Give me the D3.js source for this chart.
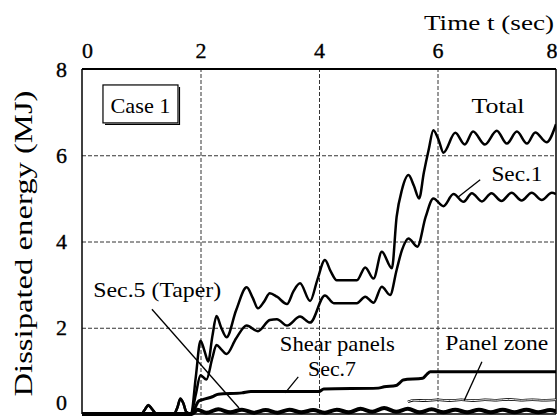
<!DOCTYPE html>
<html>
<head>
<meta charset="utf-8">
<script src="https://cdn.jsdelivr.net/npm/d3@7"></script>
<style>
html, body { margin: 0; padding: 0; background: #fff; }
svg { display: block; }
text { font-family: "Liberation Serif", "Times New Roman", Times, serif; fill: #000; }
</style>
</head>
<body>
<div id="chart"></div>
<script>
// time (sec) and dissipated energy (MJ)
let totalT = [0, 1.0, 1.06, 1.12, 1.18, 1.26, 1.55, 1.61, 1.66, 1.71, 1.76, 1.84, 1.92, 2.0, 2.07, 2.13, 2.2, 2.27,
    2.35, 2.44, 2.6, 2.78, 2.88, 2.97, 3.07, 3.17, 3.29, 3.46, 3.57, 3.68, 3.85, 3.97, 4.1, 4.2, 4.3, 4.64, 4.78,
    4.92, 5.06, 5.23, 5.31, 5.4, 5.51, 5.6, 5.69, 5.77, 5.85, 5.93, 6.02, 6.1, 6.3, 6.46, 6.6, 6.8, 7.0, 7.17,
    7.34, 7.51, 7.65, 7.84, 8.0];
let totalE = [0, 0, 0.1, 0.21, 0.12, 0, 0, 0.15, 0.36, 0.25, 0.05, 0, 0.85, 1.7, 1.45, 1.22, 1.8, 2.27,
    2.0, 1.78, 2.4, 2.94, 2.7, 2.45, 2.6, 2.8, 2.72, 2.55, 2.85, 3.03, 2.62, 3.1, 3.57, 3.3, 3.1, 3.1, 3.4,
    3.14, 3.76, 3.38, 4.57, 5.2, 5.54, 5.3, 5.0, 5.6, 6.12, 6.58, 6.35, 6.06, 6.52, 6.25, 6.55, 6.25, 6.57, 6.27,
    6.55, 6.27, 6.53, 6.3, 6.72];

let sec1T = [0, 1.0, 1.06, 1.12, 1.18, 1.26, 1.55, 1.61, 1.66, 1.71, 1.76, 1.84, 1.92, 2.0, 2.1, 2.2, 2.27, 2.35,
    2.44, 2.6, 2.78, 2.97, 3.17, 3.29, 3.46, 3.68, 3.85, 4.1, 4.25, 4.64, 4.78, 4.92, 5.06, 5.2, 5.31, 5.4, 5.51,
    5.66, 5.8, 5.93, 6.1, 6.27, 6.44, 6.58, 6.75, 6.91, 7.08, 7.25, 7.42, 7.59, 7.76, 7.93, 8.0];
let sec1E = [0, 0, 0.1, 0.2, 0.12, 0, 0, 0.15, 0.35, 0.25, 0.05, 0, 0.45, 0.9, 0.8, 1.3, 1.6, 1.5,
    1.39, 1.75, 2.05, 1.92, 2.18, 2.2, 2.05, 2.26, 2.12, 2.75, 2.57, 2.57, 2.72, 2.58, 2.95, 2.76, 3.34, 3.8, 4.07,
    3.88, 4.57, 5.0, 4.82, 5.1, 4.92, 5.12, 4.93, 5.12, 4.94, 5.13, 4.95, 5.13, 4.96, 5.13, 5.1];

// shear panels (Sec.7)
let sec7T = [0, 1.85, 1.9, 1.97, 2.05, 2.2, 2.3, 2.7, 2.85, 4.0, 4.08, 5.0, 5.1, 5.3, 5.36, 5.42, 5.75, 5.82, 5.88, 8.0];
let sec7E = [0, 0, 0.12, 0.3, 0.34, 0.4, 0.46, 0.49, 0.52, 0.52, 0.58, 0.6, 0.63, 0.66, 0.72, 0.79, 0.83, 0.92, 0.98, 0.98];

// Sec.5 (taper)
let sec5T = [0, 1.85, 1.95, 2.1, 2.3, 2.5, 2.7, 2.9, 3.1, 3.3, 3.5, 3.7, 3.9, 4.1, 4.3, 4.5, 4.7, 4.9, 5.1,
    5.3, 5.5, 5.7, 5.9, 6.1, 6.3, 6.5, 6.7, 6.9, 7.1, 7.3, 7.5, 7.7, 7.9, 8.0];
let sec5E = [0, 0, 0.1, 0.03, 0.11, 0.04, 0.1, 0.03, 0.09, 0.03, 0.1, 0.04, 0.09, 0.03, 0.1, 0.04, 0.12, 0.05, 0.14,
    0.05, 0.12, 0.04, 0.11, 0.04, 0.1, 0.04, 0.1, 0.04, 0.1, 0.04, 0.1, 0.04, 0.09, 0.06];

let panelT = [5.5, 5.6, 5.8, 6.0, 6.2, 6.4, 6.6, 6.8, 7.0, 7.2, 7.4, 7.6, 7.8, 8.0];
let panelE = [0.28, 0.32, 0.31, 0.33, 0.31, 0.33, 0.31, 0.33, 0.32, 0.34, 0.32, 0.33, 0.32, 0.33];

let xTicks = [0, 2, 4, 6, 8];
let yTicks = [0, 2, 4, 6, 8];
let gridTicks = [2, 4, 6];

// labels with leader lines, in data units
let labels = [
    {text: 'Total', t: 7.02, e: 6.98, len: 53},
    {text: 'Sec.1', t: 7.34, e: 5.40, len: 51, lead: [[6.72, 5.43], [6.35, 5.03]]},
    {text: 'Sec.5 (Taper)', t: 1.27, e: 2.71, len: 128, lead: [[1.18, 2.43], [2.65, 0.14]]},
    {text: 'Shear panels', t: 4.31, e: 1.46, len: 115},
    {text: 'Sec.7', t: 4.22, e: 0.88, len: 48, lead: [[3.65, 0.86], [3.43, 0.49]]},
    {text: 'Panel zone', t: 7.0, e: 1.48, len: 103, lead: [[6.75, 1.21], [6.45, 0.31]]}
];

let width = 557, height = 419;
let margin = {top: 69, right: 1, bottom: 5, left: 82};

let svg = d3.select('#chart').append('svg')
    .attr('width', width)
    .attr('height', height);

let x = d3.scaleLinear().domain([0, 8]).range([margin.left, width - margin.right]);
let y = d3.scaleLinear().domain([0, 8]).range([height - margin.bottom, margin.top]);

// dashed grid
let gx = svg.append('g')
    .attr('transform', 'translate(0,' + y(0) + ')')
    .call(d3.axisBottom(x).tickValues(gridTicks).tickSize(-(y(0) - y(8))).tickFormat(''));
let gy = svg.append('g')
    .attr('transform', 'translate(' + x(0) + ',0)')
    .call(d3.axisLeft(y).tickValues(gridTicks).tickSize(-(x(8) - x(0))).tickFormat(''));
[gx, gy].forEach(function (g) {
    g.select('.domain').remove();
    g.selectAll('line').attr('stroke', '#333').attr('stroke-width', 1).attr('stroke-dasharray', '4,2');
});

// frame
svg.append('line').attr('x1', x(0)).attr('x2', x(8)).attr('y1', y(8)).attr('y2', y(8))
    .attr('stroke', '#000').attr('stroke-width', 2);
svg.append('line').attr('x1', x(0)).attr('x2', x(0)).attr('y1', y(8)).attr('y2', y(0))
    .attr('stroke', '#000').attr('stroke-width', 1.5);
svg.append('line').attr('x1', x(8)).attr('x2', x(8)).attr('y1', y(8)).attr('y2', y(0))
    .attr('stroke', '#000').attr('stroke-width', 1.5);
svg.append('line').attr('x1', x(0)).attr('x2', x(8)).attr('y1', y(0)).attr('y2', y(0))
    .attr('stroke', '#000').attr('stroke-width', 1.5);

// tick labels
let axTop = svg.append('g')
    .attr('transform', 'translate(0,' + y(8) + ')')
    .call(d3.axisTop(x).tickValues(xTicks).tickSize(0).tickPadding(11).tickFormat(d3.format('d')));
let axLeft = svg.append('g')
    .attr('transform', 'translate(' + x(0) + ',0)')
    .call(d3.axisLeft(y).tickValues(yTicks).tickSize(0).tickPadding(15).tickFormat(d3.format('d')));
[axTop, axLeft].forEach(function (g) {
    g.select('.domain').remove();
    g.selectAll('text')
        .attr('font-family', '"Liberation Serif", "Times New Roman", Times, serif')
        .attr('font-size', 22)
        .attr('stroke', '#000').attr('stroke-width', 0.35);
});
axTop.selectAll('text')
    .attr('dx', function (d) { return d === 0 ? 5 : 0; })
    .attr('text-anchor', function (d) { return d === 8 ? 'end' : 'middle'; })
    .attr('x', function (d) { return d === 8 ? 1 : 0; });
axLeft.selectAll('text').attr('dy', function (d) { return d === 0 ? '-0.2em' : '0.32em'; });

// axis titles
svg.append('text')
    .attr('x', 424).attr('y', 30)
    .attr('font-size', 22)
    .attr('textLength', 130).attr('lengthAdjust', 'spacingAndGlyphs')
    .text('Time t (sec)');
svg.append('text')
    .attr('transform', 'translate(32,' + ((y(0) + y(8)) / 2 + 2) + ') rotate(-90)')
    .attr('text-anchor', 'middle')
    .attr('font-size', 25)
    .attr('textLength', 306).attr('lengthAdjust', 'spacingAndGlyphs')
    .text('Dissipated energy (MJ)');

// curves
svg.append('clipPath').attr('id', 'plot-clip')
    .append('rect')
    .attr('x', x(0)).attr('y', y(8))
    .attr('width', x(8) - x(0)).attr('height', y(0) - y(8) + 4);

let line = d3.line()
    .x(function (d) { return x(d[0]); })
    .y(function (d) { return y(d[1]); })
    .curve(d3.curveMonotoneX);

function pairs(ts, es) {
    return ts.map(function (t, i) { return [t, es[i]]; });
}

let plot = svg.append('g').attr('clip-path', 'url(#plot-clip)');

let series = [
    {data: pairs(sec5T, sec5E), width: 4},
    {data: pairs(sec7T, sec7E), width: 3},
    {data: pairs(sec1T, sec1E), width: 2.5},
    {data: pairs(totalT, totalE), width: 2.5}
];
series.forEach(function (s) {
    plot.append('path')
        .attr('d', line(s.data))
        .attr('fill', 'none')
        .attr('stroke', '#000')
        .attr('stroke-width', s.width)
        .attr('stroke-linejoin', 'round');
});

// panel zone is drawn as a hollow (double) line
let panelData = pairs(panelT, panelE);
plot.append('path').attr('d', line(panelData))
    .attr('fill', 'none').attr('stroke', '#000').attr('stroke-width', 2.6);
plot.append('path').attr('d', line(panelData))
    .attr('fill', 'none').attr('stroke', '#fff').attr('stroke-width', 1);

// labels and leader lines
labels.forEach(function (l) {
    svg.append('text')
        .attr('x', x(l.t)).attr('y', y(l.e))
        .attr('text-anchor', 'middle')
        .attr('font-size', 22)
        .attr('textLength', l.len).attr('lengthAdjust', 'spacingAndGlyphs')
        .text(l.text);
    if (l.lead) {
        svg.append('line')
            .attr('x1', x(l.lead[0][0])).attr('y1', y(l.lead[0][1]))
            .attr('x2', x(l.lead[1][0])).attr('y2', y(l.lead[1][1]))
            .attr('stroke', '#000').attr('stroke-width', 1.3);
    }
});

// "Case 1" box
let caseBox = {t0: 0.354, t1: 1.62, e0: 6.75, e1: 7.63};
svg.append('rect')
    .attr('x', x(caseBox.t0)).attr('y', y(caseBox.e1))
    .attr('width', x(caseBox.t1) - x(caseBox.t0)).attr('height', y(caseBox.e0) - y(caseBox.e1))
    .attr('fill', '#fff').attr('stroke', '#000').attr('stroke-width', 1.2);
svg.append('path')
    .attr('d', 'M' + (x(caseBox.t1) + 1.5) + ',' + (y(caseBox.e1) + 2) +
        'V' + (y(caseBox.e0) + 1.5) + 'H' + (x(caseBox.t0) + 2))
    .attr('fill', 'none').attr('stroke', '#000').attr('stroke-width', 1.2);
svg.append('text')
    .attr('x', x((caseBox.t0 + caseBox.t1) / 2)).attr('y', y(6.98))
    .attr('text-anchor', 'middle')
    .attr('font-size', 22)
    .attr('textLength', 60).attr('lengthAdjust', 'spacingAndGlyphs')
    .text('Case 1');
</script>
</body>
</html>
